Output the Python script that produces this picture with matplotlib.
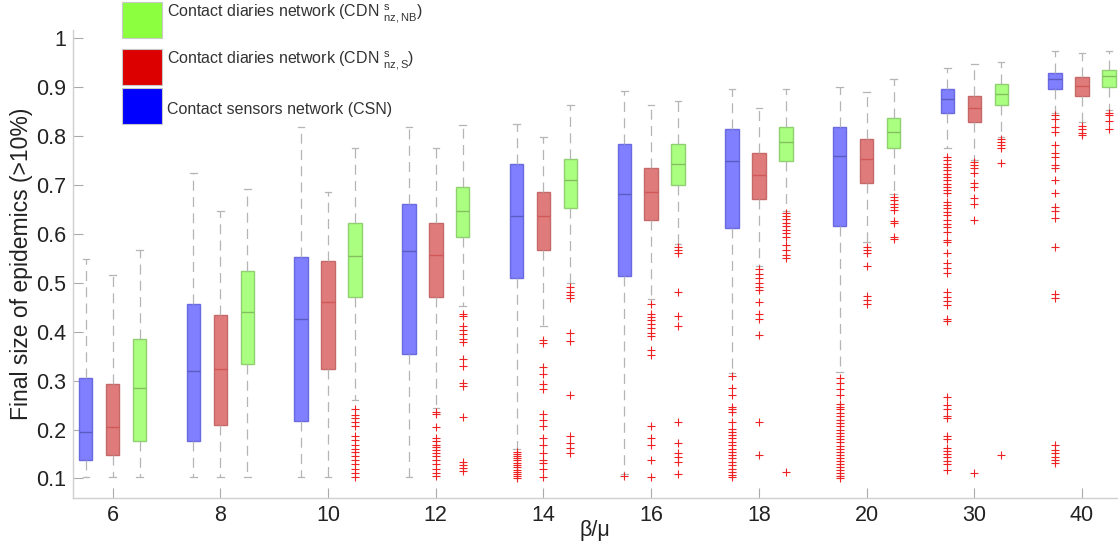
import matplotlib
matplotlib.use("Agg")
import matplotlib.pyplot as plt
from matplotlib.patches import Rectangle
import numpy as np

plt.rcParams['font.family'] = ['Liberation Sans', 'DejaVu Sans']
plt.rcParams['mathtext.fontset'] = 'custom'
plt.rcParams['mathtext.rm'] = 'Liberation Sans'
plt.rcParams['mathtext.it'] = 'Liberation Sans:italic'

beta_mu = ['6', '8', '10', '12', '14', '16', '18', '20', '30', '40']

# Contact sensors network (CSN)
csn_lo = [0.103, 0.103, 0.103, 0.103, 0.160, 0.109, 0.315, 0.318, 0.775, 0.848]
csn_q1 = [0.137, 0.176, 0.217, 0.354, 0.510, 0.514, 0.613, 0.617, 0.848, 0.897]
csn_med = [0.195, 0.319, 0.426, 0.565, 0.636, 0.681, 0.750, 0.760, 0.876, 0.917]
csn_q3 = [0.306, 0.456, 0.553, 0.662, 0.744, 0.784, 0.814, 0.818, 0.896, 0.930]
csn_hi = [0.549, 0.725, 0.818, 0.818, 0.824, 0.892, 0.896, 0.901, 0.940, 0.975]
csn_out = [
    [], [], [], [],
    [0.155, 0.150, 0.146, 0.141, 0.137, 0.132, 0.128, 0.123, 0.118, 0.114,
     0.109, 0.105, 0.101],
    [0.104],
    [0.309, 0.284, 0.270, 0.247, 0.241, 0.236, 0.216, 0.202, 0.195, 0.189,
     0.182, 0.175, 0.168, 0.161, 0.155, 0.148, 0.141, 0.134, 0.127, 0.120,
     0.114, 0.107, 0.102],
    [0.306, 0.295, 0.282, 0.270, 0.253, 0.246, 0.241, 0.234, 0.227, 0.220,
     0.214, 0.207, 0.200, 0.193, 0.187, 0.180, 0.174, 0.167, 0.161, 0.155,
     0.148, 0.142, 0.136, 0.130, 0.124, 0.118, 0.112, 0.106, 0.101],
    [0.758, 0.751, 0.744, 0.737, 0.730, 0.723, 0.717, 0.710, 0.703, 0.696,
     0.689, 0.683, 0.666, 0.659, 0.652, 0.645, 0.639, 0.628, 0.621, 0.615,
     0.604, 0.587, 0.584, 0.560, 0.540, 0.531, 0.521, 0.482, 0.472, 0.463,
     0.454, 0.427, 0.422, 0.266, 0.250, 0.243, 0.227, 0.223, 0.187, 0.180,
     0.163, 0.157, 0.150, 0.143, 0.136, 0.129, 0.117],
    [0.843, 0.834, 0.819, 0.809, 0.782, 0.765, 0.758, 0.741, 0.734, 0.711,
     0.683, 0.656, 0.647, 0.632, 0.574, 0.478, 0.468, 0.168, 0.158, 0.151,
     0.144, 0.137, 0.132],
]

# Contact diaries network, CDN s nz,S
cdns_lo = [0.103, 0.103, 0.103, 0.245, 0.412, 0.466, 0.534, 0.584, 0.751, 0.828]
cdns_q1 = [0.147, 0.210, 0.323, 0.471, 0.568, 0.628, 0.672, 0.705, 0.829, 0.882]
cdns_med = [0.206, 0.323, 0.460, 0.556, 0.637, 0.686, 0.721, 0.754, 0.858, 0.902]
cdns_q3 = [0.294, 0.435, 0.544, 0.622, 0.686, 0.735, 0.765, 0.794, 0.882, 0.921]
cdns_hi = [0.515, 0.647, 0.686, 0.775, 0.799, 0.863, 0.858, 0.891, 0.947, 0.970]
cdns_out = [
    [], [], [],
    [0.236, 0.231, 0.206, 0.182, 0.176, 0.169, 0.164, 0.159, 0.152, 0.146,
     0.137, 0.129, 0.120, 0.112, 0.105],
    [0.383, 0.377, 0.328, 0.313, 0.294, 0.283, 0.231, 0.220, 0.207, 0.182,
     0.168, 0.151, 0.137, 0.131, 0.120, 0.103],
    [0.456, 0.437, 0.431, 0.424, 0.416, 0.407, 0.398, 0.391, 0.362, 0.352,
     0.207, 0.182, 0.168, 0.137, 0.103],
    [0.529, 0.519, 0.509, 0.499, 0.492, 0.485, 0.461, 0.437, 0.427, 0.393,
     0.216, 0.148],
    [0.574, 0.567, 0.560, 0.535, 0.474, 0.465, 0.457],
    [0.748, 0.741, 0.734, 0.725, 0.705, 0.696, 0.673, 0.662, 0.628, 0.112],
    [0.821, 0.814, 0.807, 0.802],
]

# Contact diaries network, CDN s nz,NB
cdnnb_lo = [0.103, 0.103, 0.260, 0.452, 0.500, 0.579, 0.647, 0.681, 0.799, 0.853]
cdnnb_q1 = [0.176, 0.334, 0.471, 0.593, 0.652, 0.701, 0.750, 0.775, 0.863, 0.901]
cdnnb_med = [0.284, 0.441, 0.554, 0.647, 0.711, 0.744, 0.787, 0.809, 0.887, 0.923]
cdnnb_q3 = [0.386, 0.525, 0.622, 0.696, 0.754, 0.784, 0.818, 0.838, 0.906, 0.936]
cdnnb_hi = [0.568, 0.691, 0.775, 0.822, 0.863, 0.872, 0.896, 0.917, 0.951, 0.975]
cdnnb_out = [
    [], [],
    [0.241, 0.229, 0.223, 0.216, 0.207, 0.186, 0.178, 0.169, 0.161, 0.154,
     0.146, 0.137, 0.129, 0.120, 0.112, 0.103],
    [0.437, 0.433, 0.411, 0.403, 0.395, 0.386, 0.380, 0.344, 0.330, 0.295,
     0.290, 0.225, 0.133, 0.127, 0.121, 0.115],
    [0.492, 0.482, 0.475, 0.468, 0.397, 0.382, 0.270, 0.187, 0.172, 0.162,
     0.153],
    [0.574, 0.567, 0.560, 0.482, 0.432, 0.412, 0.216, 0.172, 0.153, 0.144,
     0.134, 0.109],
    [0.643, 0.636, 0.630, 0.623, 0.616, 0.609, 0.602, 0.593, 0.577, 0.568,
     0.557, 0.550, 0.114],
    [0.676, 0.669, 0.662, 0.656, 0.648, 0.627, 0.622, 0.593, 0.589],
    [0.795, 0.788, 0.782, 0.775, 0.746, 0.148],
    [0.848, 0.843, 0.830, 0.814],
]


def make_stats(lo, q1, med, q3, hi, out):
    stats = []
    for i in range(len(med)):
        stats.append({'whislo': lo[i], 'q1': q1[i], 'med': med[i],
                      'q3': q3[i], 'whishi': hi[i], 'fliers': out[i]})
    return stats


series = [
    (make_stats(csn_lo, csn_q1, csn_med, csn_q3, csn_hi, csn_out),
     -0.25, '#7f7fff', '#6a6ae0', '#5c5cc0'),
    (make_stats(cdns_lo, cdns_q1, cdns_med, cdns_q3, cdns_hi, cdns_out),
     0.0, '#e07b7b', '#c46868', '#d05858'),
    (make_stats(cdnnb_lo, cdnnb_q1, cdnnb_med, cdnnb_q3, cdnnb_hi, cdnnb_out),
     0.25, '#aaff80', '#90d070', '#84c060'),
]

W, H = 1118, 546
fig = plt.figure(figsize=(W / 100, H / 100), dpi=100)
ax = fig.add_axes([72.7 / W, 48 / H, (W - 72.7) / W, (498 - 30) / H])

x = np.arange(len(beta_mu))
for stats, off, fill, edge, medc in series:
    ax.bxp(stats, positions=x + off, widths=0.125, capwidths=0.06,
           patch_artist=True, manage_ticks=False,
           boxprops=dict(facecolor=fill, edgecolor=edge, linewidth=1.0),
           medianprops=dict(color=medc, linewidth=1.0),
           whiskerprops=dict(color='#b5b5b5', linewidth=0.9, linestyle=(0, (8, 5))),
           capprops=dict(color='#b5b5b5', linewidth=0.9),
           flierprops=dict(marker='+', markeredgecolor='#ee2222',
                           markersize=5.5, markeredgewidth=0.8, linestyle='none'))

ax.set_xlim(-0.371, 9.334)
ax.set_ylim(0.06, 1.017)
ax.set_xticks(x)
ax.set_xticklabels(beta_mu)
ax.set_yticks(np.arange(0.1, 1.01, 0.1))
ax.set_yticklabels(['0.1', '0.2', '0.3', '0.4', '0.5', '0.6', '0.7', '0.8', '0.9', '1'])
ax.tick_params(direction='in', length=7.5, width=0.8, color='#aaaaaa',
               labelsize=15.5, labelcolor='#222222', pad=5)
for side in ['top', 'right']:
    ax.spines[side].set_visible(False)
for side in ['left', 'bottom']:
    ax.spines[side].set_color('#cfcfcf')
    ax.spines[side].set_linewidth(1.0)

ax.set_ylabel('Final size of epidemics (>10%)', fontsize=16.5, color='#222222', labelpad=2)
ax.set_xlabel('β/μ', fontsize=15.5, color='#222222')
ax.xaxis.set_label_coords(0.5, -0.048)

# legend drawn as plain squares with labels
legend_rows = [
    ('#8cff3f', 1.7, 38.3, 17.3, r'Contact diaries network (CDN ${}^{\mathrm{s}}_{\mathrm{nz,NB}}$)'),
    ('#dd0000', 49.3, 85.0, 64.3, r'Contact diaries network (CDN ${}^{\mathrm{s}}_{\mathrm{nz,S}}$)'),
    ('#0000ff', 88.3, 124.0, 114.0, 'Contact sensors network (CSN)'),
]
for color, top, bottom, base, label in legend_rows:
    fig.add_artist(Rectangle((122.3 / W, 1 - bottom / H), 40 / W, (bottom - top) / H,
                             transform=fig.transFigure, facecolor=color,
                             edgecolor='#c8c8c8', linewidth=0.8))
    fig.text(166.7 / W, 1 - base / H, label, fontsize=11.5, color='#333333',
             va='baseline', ha='left')

fig.savefig('out.png', dpi=100)
